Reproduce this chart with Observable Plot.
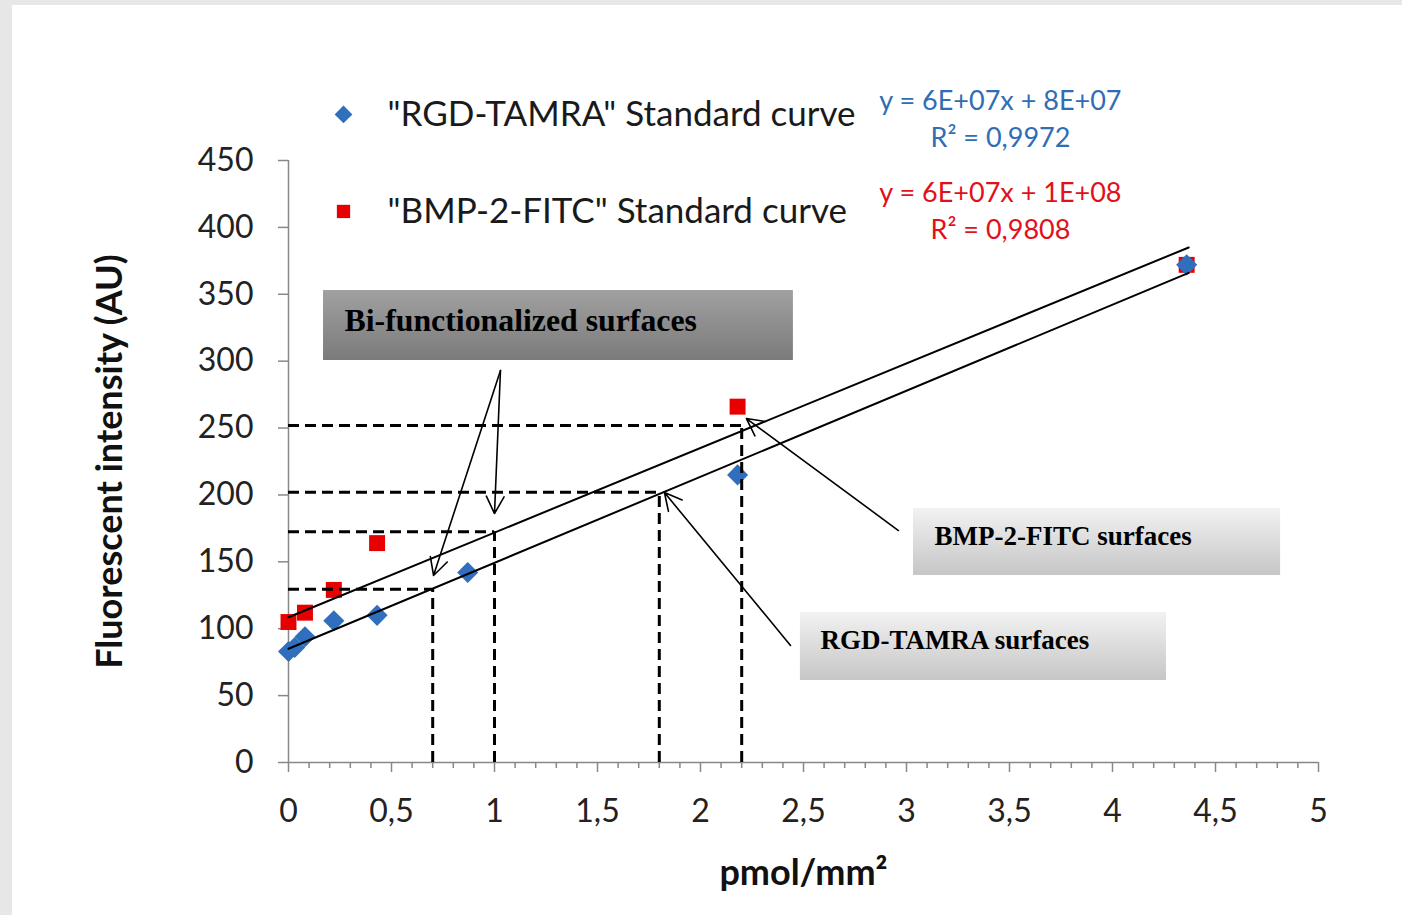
<!DOCTYPE html>
<html>
<head>
<meta charset="utf-8">
<script src="https://cdn.jsdelivr.net/npm/d3@7"></script>
<script src="https://cdn.jsdelivr.net/npm/@observablehq/plot@0.6"></script>
<style>
  html, body { margin: 0; padding: 0; background: #fff; overflow: hidden; }
  #wrap { position: relative; width: 1402px; height: 915px; }
  .strip-left { position: absolute; left: 0; top: 0; width: 12px; height: 915px; background: #e7e7e7; }
  .strip-top { position: absolute; left: 0; top: 0; width: 1402px; height: 5px; background: #e7e7e7; }
  #chart { position: absolute; left: 0; top: 0; }
</style>
</head>
<body>
<svg width="0" height="0" style="position:absolute">
  <defs>
    <linearGradient id="gradDark" x1="0" y1="0" x2="0" y2="1">
      <stop offset="0" stop-color="#a0a0a0"/>
      <stop offset="1" stop-color="#7b7b7b"/>
    </linearGradient>
    <linearGradient id="gradLight" x1="0" y1="0" x2="0" y2="1">
      <stop offset="0" stop-color="#f2f2f2"/>
      <stop offset="1" stop-color="#c6c6c6"/>
    </linearGradient>
    <filter id="shadow" x="-10%" y="-20%" width="120%" height="160%">
      <feDropShadow dx="0" dy="3" stdDeviation="2.5" flood-color="#000" flood-opacity="0.35"/>
    </filter>
  </defs>
</svg>
<div id="wrap">
  <div class="strip-left"></div>
  <div class="strip-top"></div>
  <div id="chart"></div>
</div>
<script>
// ---- data ----
const rgdX = [0, 0.03, 0.08, 0.22, 0.43, 0.87, 2.18, 4.36];
const rgdY = [83, 86, 94, 106, 110, 142, 215, 372];
const bmpX = [0, 0.08, 0.22, 0.43, 2.18, 4.36];
const bmpY = [105, 112, 129, 164, 266, 372];

// trend lines
const trendX = [0, 4.37];
const rgdTrendY = [85, 366];
const bmpTrendY = [108.6, 385];

// dashed guide lines
const guideX = [0.70, 1.0, 1.8, 2.2];
const guideY = [129.5, 172.5, 202, 252];

// arrows
const arrowX1 = [1.029, 1.029, 2.961, 2.437];
const arrowY1 = [293, 293, 173.4, 87.5];
const arrowX2 = [0.704, 1.0, 2.223, 1.825];
const arrowY2 = [139.8, 186.1, 257.1, 201.8];

// annotation boxes
const boxLabels = ["Bi-functionalized surfaces", "BMP-2-FITC surfaces", "RGD-TAMRA surfaces"];
const boxX1 = [0.170, 3.034, 2.485];
const boxX2 = [2.451, 4.816, 4.262];
const boxY1 = [300.5, 139.8, 61.3];
const boxY2 = [352.8, 189.9, 112.1];
const boxTextX = [0.272, 3.136, 2.583];
const boxTextY = [330.4, 168.9, 91.2];

// legend & equations
const legendLabels = ['"RGD-TAMRA" Standard curve', '"BMP-2-FITC" Standard curve'];
const legendY = [484.4, 411.9];
const eqLines = [
  ["y = 6E+07x + 8E+07", "R² = 0,9972"],
  ["y = 6E+07x + 1E+08", "R² = 0,9808"]
];
const eqY = [[494.1, 466.4], [425.3, 397.7]];

const xTicks = [0, 0.5, 1, 1.5, 2, 2.5, 3, 3.5, 4, 4.5, 5];
const xMinorTicks = d3.range(0, 50).map(i => i / 10).filter(v => Math.round(v * 10) % 5 !== 0);
const yTicks = [0, 50, 100, 150, 200, 250, 300, 350, 400, 450];

const BLUE = "#2f6fbe";
const RED = "#e60000";
const BLUE_TXT = "#2f6db5";
const RED_TXT = "#e2101a";
const FONT = "Lato, 'Open Sans', sans-serif";

const rgd = rgdX.map((x, i) => ({x, y: rgdY[i]}));
const bmp = bmpX.map((x, i) => ({x, y: bmpY[i]}));
const trends = [
  ...trendX.map((x, i) => ({s: "rgd", x, y: rgdTrendY[i]})),
  ...trendX.map((x, i) => ({s: "bmp", x, y: bmpTrendY[i]}))
];
const guides = guideX.map((x, i) => ({x, y: guideY[i]}));
const arrows = arrowX1.map((x1, i) => ({x1, y1: arrowY1[i], x2: arrowX2[i], y2: arrowY2[i]}));
const boxes = boxLabels.map((label, i) => ({label, x1: boxX1[i], x2: boxX2[i], y1: boxY1[i], y2: boxY2[i], tx: boxTextX[i], ty: boxTextY[i]}));
const eqs = [];
eqLines.forEach((lines, s) => lines.forEach((t, j) => eqs.push({t, s, y: eqY[s][j]})));

const plot = Plot.plot({
  width: 1402,
  height: 915,
  marginLeft: 288,
  marginRight: 84,
  marginTop: 160,
  marginBottom: 153,
  style: {background: "transparent", fontFamily: FONT},
  x: {domain: [0, 5]},
  y: {domain: [0, 450]},
  marks: [
    // axes
    Plot.axisY({ticks: yTicks, tickSize: 10, tickPadding: 25, fontSize: 32, label: null,
      stroke: "#888", strokeWidth: 1.5, fill: "#222", tickFormat: d => String(d)}),
    Plot.axisX({ticks: xMinorTicks, tickSize: 6, label: null, stroke: "#888", strokeWidth: 1.5, tickFormat: () => ""}),
    Plot.axisX({ticks: xTicks, tickSize: 10, tickPadding: 27, fontSize: 32, label: null,
      stroke: "#888", strokeWidth: 1.5, fill: "#222", tickFormat: d => String(d).replace(".", ",")}),
    Plot.ruleX([0], {stroke: "#888", strokeWidth: 1.5}),
    Plot.ruleY([0], {stroke: "#888", strokeWidth: 1.5}),
    // axis titles
    Plot.text(["Fluorescent intensity (AU)"], {frameAnchor: "left", textAnchor: "middle", lineAnchor: "middle",
      rotate: -90, dx: -178, fontSize: 36, fontWeight: "bold", fill: "#111"}),
    Plot.text(["pmol/mm²"], {frameAnchor: "bottom", textAnchor: "middle", lineAnchor: "middle",
      dy: 111, fontSize: 36, fontWeight: "bold", fill: "#111"}),
    // data points
    Plot.dot(bmp, {x: "x", y: "y", symbol: "square", r: 9, fill: RED}),
    Plot.dot(rgd, {x: "x", y: "y", symbol: "diamond2", r: 9.5, fill: BLUE}),
    // trend lines
    Plot.line(trends, {x: "x", y: "y", z: "s", stroke: "#000", strokeWidth: 2}),
    // dashed guides
    Plot.ruleY(guides, {y: "y", x1: 0, x2: "x", stroke: "#000", strokeWidth: 3, strokeDasharray: "11,6"}),
    Plot.ruleX(guides, {x: "x", y1: 0, y2: "y", stroke: "#000", strokeWidth: 3, strokeDasharray: "11,6"}),
    // arrows
    Plot.arrow(arrows, {x1: "x1", y1: "y1", x2: "x2", y2: "y2", stroke: "#000", strokeWidth: 1.6,
      headLength: 18, headAngle: 55}),
    // boxes
    Plot.rect(boxes.slice(0, 1), {x1: "x1", x2: "x2", y1: "y1", y2: "y2", fill: "url(#gradDark)", ariaLabel: "box-dark"}),
    Plot.rect(boxes.slice(1), {x1: "x1", x2: "x2", y1: "y1", y2: "y2", fill: "url(#gradLight)", ariaLabel: "box-light"}),
    Plot.text(boxes.slice(0, 1), {x: "tx", y: "ty", text: "label", textAnchor: "start", fontSize: 31.8,
      fontWeight: "bold", fontFamily: "'Liberation Serif', 'Times New Roman', serif", fill: "#000"}),
    Plot.text(boxes.slice(1), {x: "tx", y: "ty", text: "label", textAnchor: "start", fontSize: 27,
      fontWeight: "bold", fontFamily: "'Liberation Serif', 'Times New Roman', serif", fill: "#000"}),
    // legend
    Plot.dot([0], {x: 0.267, y: legendY[0], symbol: "diamond2", r: 8, fill: BLUE}),
    Plot.dot([0], {x: 0.267, y: legendY[1], symbol: "square", r: 7.5, fill: RED}),
    Plot.text(legendLabels, {x: 0.481, y: (d, i) => legendY[i], text: d => d, textAnchor: "start",
      fontSize: 35, fill: "#1a1a1a"}),
    // equations
    Plot.text(eqs, {x: 3.456, y: "y", text: "t", fontSize: 27, fill: d => d.s === 0 ? BLUE_TXT : RED_TXT})
  ]
});

document.getElementById("chart").appendChild(plot);
d3.select(plot).selectAll('g[aria-label="box-light"] rect').attr("filter", "url(#shadow)");
</script>
</body>
</html>
